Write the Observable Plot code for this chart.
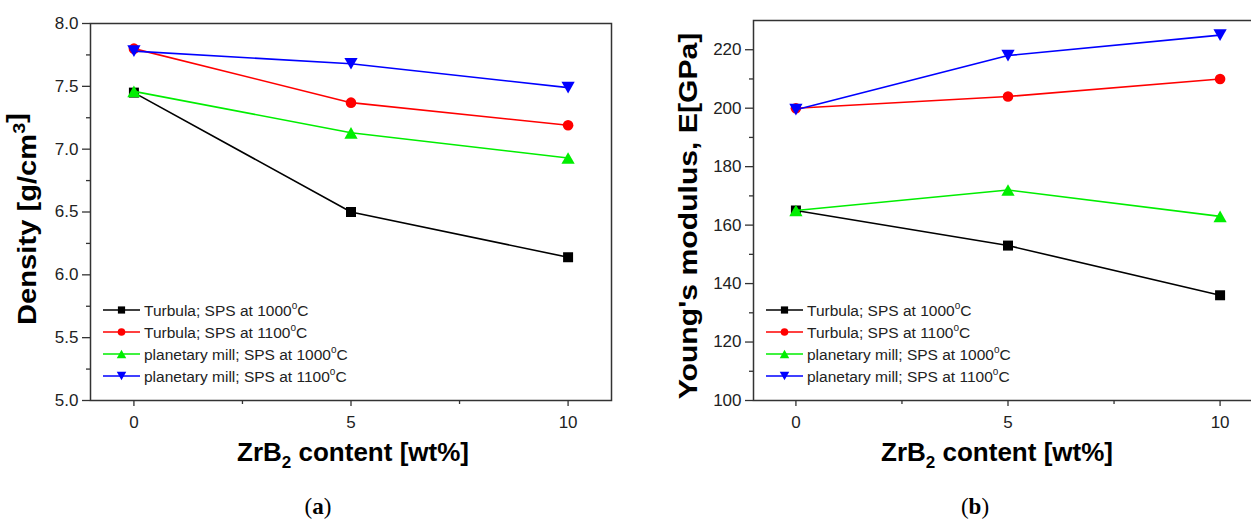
<!DOCTYPE html>
<html><head><meta charset="utf-8">
<script src="https://cdn.jsdelivr.net/npm/d3@7"></script>
<script src="https://cdn.jsdelivr.net/npm/@observablehq/plot@0.6"></script>
<style>
html,body{margin:0;padding:0;background:#fff;}
#wrap{position:relative;width:1251px;height:524px;overflow:hidden;font-family:"Liberation Sans",Arial,sans-serif;}
.panel{position:absolute;top:0;height:524px;}
.panel svg{max-width:none !important;}
.cap{position:absolute;width:100px;text-align:center;top:494px;font-family:"Liberation Serif","DejaVu Serif",serif;font-size:23px;color:#000;}
.cap b{font-weight:bold;}
</style></head><body><div id="wrap"></div>
<script>
// ---- data ----
const content = [0, 5, 10];
const seriesNames = ["Turbula; SPS at 1000", "Turbula; SPS at 1100", "planetary mill; SPS at 1000", "planetary mill; SPS at 1100"];
const seriesColors = ["#000000", "#ff0000", "#00ee00", "#0000ff"];

const densityTurbula1000 = [7.45, 6.50, 6.14];
const densityTurbula1100 = [7.80, 7.37, 7.19];
const densityPlanetary1000 = [7.46, 7.13, 6.93];
const densityPlanetary1100 = [7.78, 7.68, 7.49];

const modulusTurbula1000 = [165, 153, 136];
const modulusTurbula1100 = [200, 204, 210];
const modulusPlanetary1000 = [165, 172, 163];
const modulusPlanetary1100 = [199.5, 218, 225];

const xTicks = [0, 5, 10];
const xMinorTicks = [2.5, 7.5];
const densityTicks = [5.0, 5.5, 6.0, 6.5, 7.0, 7.5, 8.0];
const densityMinorTicks = [5.25, 5.75, 6.25, 6.75, 7.25, 7.75];
const modulusTicks = [100, 120, 140, 160, 180, 200, 220];
const modulusMinorTicks = [110, 130, 150, 170, 190, 210];

// ---- symbols ----
const rOf = size => Math.sqrt(size / Math.PI);
const symSquare = {draw(c, s){const r = rOf(s); c.rect(-r, -r, 2*r, 2*r);}};
const symCircle = {draw(c, s){const r = rOf(s); c.moveTo(r, 0); c.arc(0, 0, r, 0, 2*Math.PI);}};
const symUp = {draw(c, s){const r = rOf(s), w = r*1.25, h = r*1.1; c.moveTo(0, -h); c.lineTo(w, h); c.lineTo(-w, h); c.closePath();}};
const symDown = {draw(c, s){const r = rOf(s), w = r*1.25, h = r*1.1; c.moveTo(0, h); c.lineTo(w, -h); c.lineTo(-w, -h); c.closePath();}};
const seriesSymbols = [symSquare, symCircle, symUp, symDown];
const seriesR = [5, 5.3, 5.3, 5.3];

const FONT = '"Liberation Sans", Arial, sans-serif';

function panel(o) {
  const marks = [
    Plot.frame({stroke: "#333", strokeWidth: 1.5}),
    Plot.axisY({ticks: o.yTicks, tickFormat: o.yFormat, tickSize: 8, tickPadding: 4, label: null, fontSize: 17, stroke: "#333", strokeWidth: 1.3}),
    Plot.axisY({ticks: o.yMinor, tickFormat: () => "", tickSize: 4, label: null, stroke: "#333", strokeWidth: 1.3}),
    Plot.axisX({ticks: xTicks, tickFormat: d => String(d), tickSize: 6, tickPadding: 9, label: null, fontSize: 17, stroke: "#333", strokeWidth: 1.3}),
    Plot.axisX({ticks: xMinorTicks, tickFormat: () => "", tickSize: 4, label: null, stroke: "#333", strokeWidth: 1.3})
  ];
  o.values.forEach((vals, k) => {
    const rows = content.map((c, i) => ({c, v: vals[i]}));
    marks.push(Plot.line(rows, {x: "c", y: "v", stroke: seriesColors[k], strokeWidth: 1.6}));
    marks.push(Plot.dot(rows, {x: "c", y: "v", r: seriesR[k], symbol: seriesSymbols[k], fill: seriesColors[k], stroke: "none"}));
  });
  const svg = Plot.plot({
    width: o.width, height: 524,
    marginLeft: o.marginLeft, marginRight: o.marginRight, marginTop: o.marginTop, marginBottom: 124,
    x: {domain: [-1, 11]},
    y: {domain: o.yDomain},
    style: {fontFamily: FONT, fontSize: "17px", color: "#222", background: "transparent", overflow: "visible", maxWidth: "none"},
    marks
  });
  svg.setAttribute("width", o.width);
  svg.style.width = o.width + "px";
  const div = document.createElement("div");
  div.className = "panel";
  div.style.left = o.left + "px";
  div.style.width = o.width + "px";
  div.appendChild(svg);
  document.getElementById("wrap").appendChild(div);

  const s = d3.select(svg);
  s.selectAll('g[aria-label$="tick label"]').attr("font-size", 17);
  s.selectAll('g[aria-label$="tick label"] text').attr("font-size", 17);

  // y label
  const yl = s.append("text")
    .attr("text-anchor", "middle")
    .attr("font-family", FONT).attr("font-weight", "bold").attr("font-size", 25).attr("fill", "#000");
  o.yLabel.forEach(([t, sup]) => {
    if (sup) {
      yl.append("tspan").attr("font-size", 17).attr("dy", -11).text(t);
      yl.append("tspan").attr("dy", 11).text("");
    } else yl.append("tspan").text(t);
  });
  const yLen = yl.node().getComputedTextLength();
  yl.attr("transform", `translate(${o.yLabelX},${o.yLabelY}) rotate(-90) scale(${o.yLabelLen / yLen},1)`);

  // x label
  const xl = s.append("text")
    .attr("text-anchor", "middle")
    .attr("x", o.xLabelX).attr("y", 461)
    .attr("font-family", FONT).attr("font-weight", "bold").attr("font-size", 26).attr("fill", "#000");
  xl.append("tspan").text("ZrB");
  xl.append("tspan").attr("font-size", 17).attr("dy", 7).text("2");
  xl.append("tspan").attr("dy", -7).text(" content [wt%]");

  // legend
  const lx = o.marginLeft + 13;
  seriesNames.forEach((name, k) => {
    const y = 310 + 22 * k;
    s.append("line").attr("x1", lx).attr("x2", lx + 37).attr("y1", y).attr("y2", y)
      .attr("stroke", seriesColors[k]).attr("stroke-width", 1.6);
    const size = Math.PI * Math.pow(seriesR[k] * 0.72, 2);
    s.append("path").attr("d", d3.symbol(seriesSymbols[k], size)())
      .attr("transform", `translate(${lx + 18.5},${y})`).attr("fill", seriesColors[k]);
    const t = s.append("text").attr("x", lx + 41).attr("y", y + 5.5)
      .attr("text-anchor", "start")
      .attr("font-family", FONT).attr("font-size", 15.5).attr("fill", "#222");
    t.append("tspan").text(name);
    t.append("tspan").attr("font-size", 10).attr("dy", -7).text("o");
    t.append("tspan").attr("dy", 7).text("C");
  });
}

panel({
  left: 0, width: 620, marginLeft: 90, marginRight: 9, marginTop: 23,
  values: [densityTurbula1000, densityTurbula1100, densityPlanetary1000, densityPlanetary1100],
  yDomain: [5, 8], yTicks: densityTicks, yMinor: densityMinorTicks, yFormat: d3.format(".1f"),
  yLabel: [["Density [g/cm"], ["3", true], ["]"]], yLabelX: 36, yLabelY: 219, yLabelLen: 212,
  xLabelX: 353
});

panel({
  left: 630, width: 640, marginLeft: 123, marginRight: 8, marginTop: 20,
  values: [modulusTurbula1000, modulusTurbula1100, modulusPlanetary1000, modulusPlanetary1100],
  yDomain: [100, 230], yTicks: modulusTicks, yMinor: modulusMinorTicks, yFormat: d3.format("d"),
  yLabel: [["Young's modulus, E[GPa]"]], yLabelX: 67, yLabelY: 216, yLabelLen: 367,
  xLabelX: 367
});

const wrap = document.getElementById("wrap");
[["a", 318], ["b", 975]].forEach(([l, x]) => {
  const d = document.createElement("div");
  d.className = "cap";
  d.style.left = (x - 50) + "px";
  d.innerHTML = "(<b>" + l + "</b>)";
  wrap.appendChild(d);
});
</script>
</body></html>
